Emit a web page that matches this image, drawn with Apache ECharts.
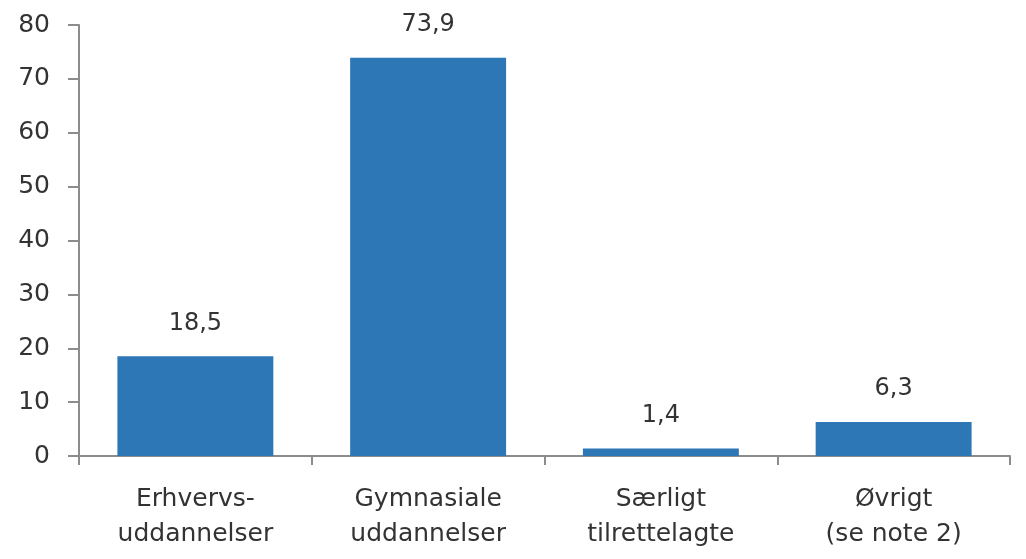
<!DOCTYPE html>
<html><head><meta charset="utf-8">
<script src="https://cdn.jsdelivr.net/npm/echarts@6/dist/echarts.min.js"></script>
<style>html,body{margin:0;padding:0;background:#fff}#c{width:1026px;height:559px}</style>
</head><body><div id="c"></div>
<script>
const categories = ["Erhvervs-\nuddannelser", "Gymnasiale\nuddannelser", "Særligt\ntilrettelagte", "Øvrigt\n(se note 2)"];
const values = [18.5, 73.9, 1.4, 6.3];
const yTicks = [0, 10, 20, 30, 40, 50, 60, 70, 80];

const chart = echarts.init(document.getElementById('c'));
const font = '"DejaVu Sans", sans-serif';
chart.setOption({
  animation: false,
  grid: {left: 79, right: 16, top: 25, bottom: 103, containLabel: false},
  xAxis: {
    type: 'category', data: categories,
    axisLine: {lineStyle: {color: '#8c8c8c', width: 2}},
    axisTick: {show: true, length: 9, alignWithLabel: false, lineStyle: {color: '#8c8c8c', width: 2}},
    axisLabel: {color: '#333333', fontSize: 25, fontFamily: font, lineHeight: 35, margin: 26, interval: 0}
  },
  yAxis: {
    type: 'value', min: 0, max: 80, interval: 10,
    axisLine: {show: true, lineStyle: {color: '#8c8c8c', width: 2}},
    axisTick: {show: true, length: 11, lineStyle: {color: '#8c8c8c', width: 2}},
    splitLine: {show: false},
    axisLabel: {color: '#333333', fontSize: 25, fontFamily: font, margin: 29,
      formatter: v => yTicks.includes(v) ? String(v) : ''}
  },
  series: [{
    type: 'bar', data: values, barWidth: '67%',
    itemStyle: {color: '#2e77b7'},
    label: {show: true, position: 'top', distance: 21, color: '#333333', fontSize: 24, fontFamily: font,
      formatter: p => String(p.value).replace('.', ',')}
  }]
});
</script></body></html>
